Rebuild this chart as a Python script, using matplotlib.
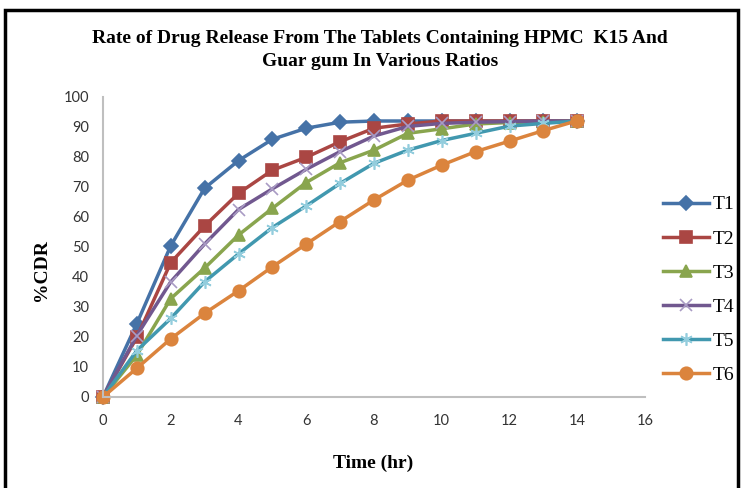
"""
Drug release profile, HPMC K15 / guar gum tablets
"""

import matplotlib
matplotlib.use("Agg")
import matplotlib.pyplot as plt
from matplotlib.patches import Rectangle

# time points (hr)
hours = [0, 1, 2, 3, 4, 5, 6, 7, 8, 9, 10, 11, 12, 13, 14]

# %CDR
t1 = [0, 24.5, 50.4, 69.6, 78.8, 85.9, 89.6, 91.6, 92, 92, 92, 92, 92, 92, 92]
t2 = [0, 19.9, 44.8, 57.0, 67.9, 75.6, 79.9, 85.1, 89.6, 91.0, 92, 92, 92, 92, 92]
t3 = [0, 14.0, 32.8, 43.0, 54.0, 62.9, 71.5, 78.1, 82.3, 87.9, 89.4, 91.0, 91.5, 91.7, 92]
t4 = [0, 20.5, 38.4, 51.0, 62.5, 69.4, 75.9, 81.8, 87.0, 90.2, 91.2, 91.6, 91.8, 92, 92]
t5 = [0, 15.5, 26.2, 38.4, 47.7, 56.5, 63.7, 71.2, 77.9, 82.3, 85.5, 87.9, 90.3, 91.2, 92]
t6 = [0, 9.6, 19.4, 27.9, 35.4, 43.4, 51.0, 58.5, 65.7, 72.3, 77.3, 81.8, 85.3, 88.8, 92.1]

names = ["T1", "T2", "T3", "T4", "T5", "T6"]
series = [t1, t2, t3, t4, t5, t6]

colors = ["#4572A7", "#AA4643", "#89A54E", "#71588F", "#4198AF", "#DB843D"]
mcolors = ["#4572A7", "#AA4643", "#89A54E", "#A99BC4", "#93CDDD", "#DB843D"]
markers = ["D", "s", "^", "x", (6, 2, 0), "o"]
msizes = [7, 8.5, 8.5, 8, 9, 9]

fig = plt.figure(figsize=(7.43, 4.88), dpi=100)
ax = fig.add_axes([103/743, 1 - 397/488, 542/743, 300/488])

for name, ys, c, mc, m, ms in zip(names, series, colors, mcolors, markers, msizes):
    ax.plot(hours, ys, color=c, lw=2.5, marker=m, ms=ms,
            markerfacecolor=mc, markeredgecolor=mc, markeredgewidth=1.2,
            label=name, clip_on=False)

ax.set_xlim(0, 16)
ax.set_ylim(0, 100)
ax.set_xticks(range(0, 17, 2))
ax.set_yticks(range(0, 101, 10))
for side in ["top", "right"]:
    ax.spines[side].set_visible(False)
for side in ["left", "bottom"]:
    ax.spines[side].set_color("#BFBFBF")
    ax.spines[side].set_linewidth(1.5)
ax.tick_params(length=0, pad=12, labelsize=10.5, labelcolor="#333333")
for lab in ax.get_xticklabels() + ax.get_yticklabels():
    lab.set_fontfamily("Lato")
ax.tick_params(axis="y", pad=10)

fig.text(380/743, 1 - 50/488,
         "Rate of Drug Release From The Tablets Containing HPMC  K15 And\nGuar gum In Various Ratios",
         ha="center", va="center", fontsize=14, fontweight="bold",
         fontfamily="Liberation Serif", linespacing=1.5)
fig.text(373/743, 1 - 463/488, "Time (hr)", ha="center", va="center",
         fontsize=14, fontweight="bold", fontfamily="Liberation Serif")
fig.text(42/743, 1 - 270/488, "%CDR", ha="center", va="center", rotation=90,
         fontsize=14, fontweight="bold", fontfamily="Liberation Serif")

leg = ax.legend(loc="upper left", bbox_to_anchor=(655/743, 1 - 188/488),
                bbox_transform=fig.transFigure, frameon=False,
                prop={"family": "Liberation Serif", "size": 14},
                handlelength=2.4, handletextpad=0.15, labelspacing=0.85,
                borderaxespad=0)

# chart border
fig.patches.append(Rectangle((5/743, -0.05), 733/743, 1 - 10/488 + 0.05,
                             transform=fig.transFigure, fill=False,
                             edgecolor="black", lw=2.5))

plt.savefig("out.png", dpi=100)
